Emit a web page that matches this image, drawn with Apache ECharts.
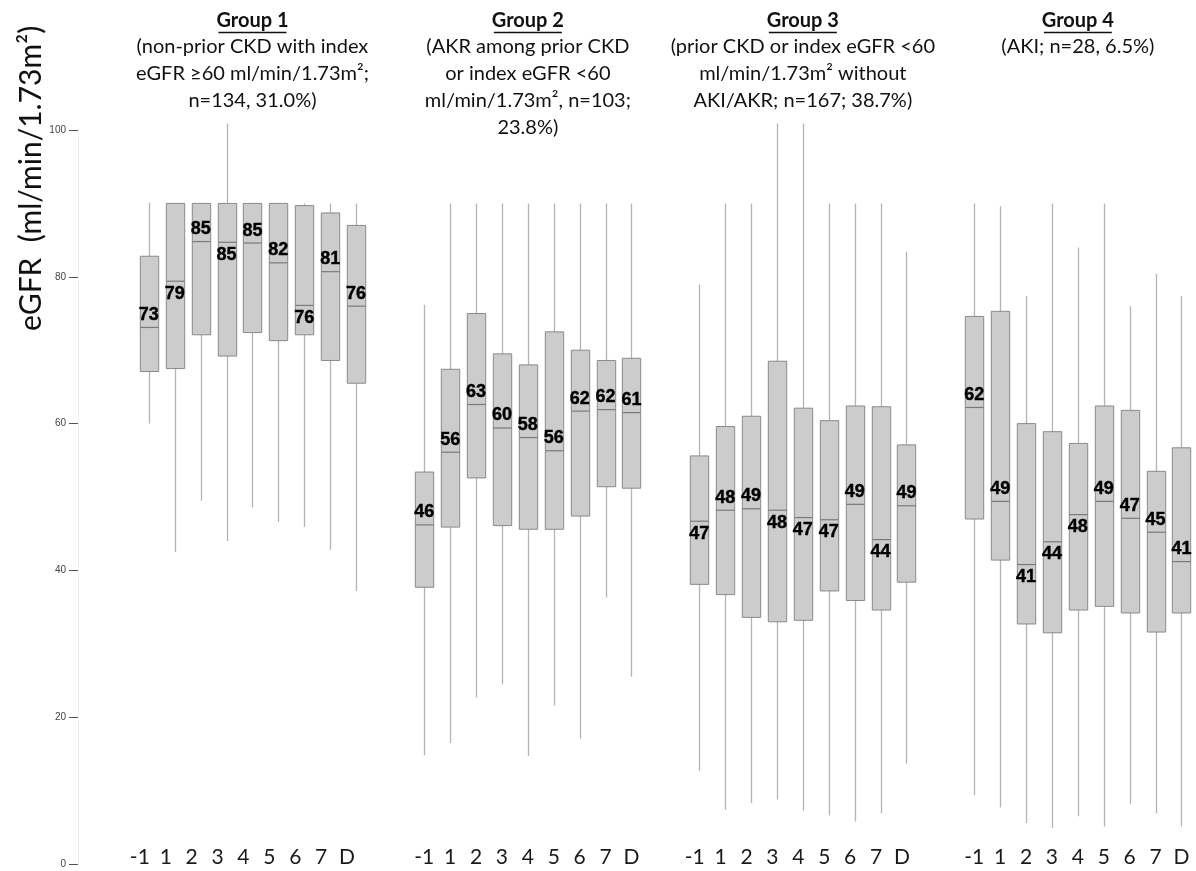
<!DOCTYPE html>
<html>
<head>
<meta charset="utf-8">
<script src="https://cdn.jsdelivr.net/npm/echarts@6/dist/echarts.min.js"></script>
<style>
html,body{margin:0;padding:0;background:#fff;}
#chart{width:1196px;height:871px;}
</style>
</head>
<body>
<div id="chart"></div>
<script>
// ---------- DATA ----------
var categories = ['-1', '1', '2', '3', '4', '5', '6', '7', 'D'];
var yTicks = [0, 20, 40, 60, 80, 100];

var groupTitles = ['Group 1', 'Group 2', 'Group 3', 'Group 4'];
var groupSubtitles = [
  ['(non-prior CKD with index', 'eGFR \u226560 ml/min/1.73m\u00b2;', 'n=134, 31.0%)'],
  ['(AKR among prior CKD', 'or index eGFR <60', 'ml/min/1.73m\u00b2, n=103;', '23.8%)'],
  ['(prior CKD or index eGFR <60', 'ml/min/1.73m\u00b2 without', 'AKI/AKR; n=167; 38.7%)'],
  ['(AKI; n=28, 6.5%)']
];

// Group 1
var g1Low  = [60.0, 42.5, 49.5, 44.0, 48.6, 46.6, 45.9, 42.8, 37.2];
var g1Q1   = [67.1, 67.5, 72.1, 69.2, 72.4, 71.3, 72.1, 68.6, 65.5];
var g1Med  = [73.1, 79.4, 84.8, 84.7, 84.6, 81.9, 76.1, 80.7, 76.0];
var g1Q3   = [82.8, 90.0, 90.0, 90.0, 90.0, 90.0, 89.7, 88.7, 87.0];
var g1High = [90.1, 90.0, 90.0, 100.9, 90.0, 90.0, 90.0, 90.0, 90.0];
var g1Labels = [73, 79, 85, 85, 85, 82, 76, 81, 76];
var g1LabelPos = ['top', 'bottom', 'top', 'bottom', 'top', 'top', 'bottom', 'top', 'top'];

// Group 2
var g2Low  = [14.8, 16.5, 22.7, 24.5, 14.7, 21.6, 17.1, 36.3, 25.5];
var g2Q1   = [37.7, 45.9, 52.6, 46.1, 45.6, 45.6, 47.4, 51.4, 51.2];
var g2Med  = [46.2, 56.1, 62.6, 59.4, 58.1, 56.3, 61.7, 61.9, 61.5];
var g2Q3   = [53.4, 67.4, 75.0, 69.5, 68.0, 72.5, 70.0, 68.6, 68.9];
var g2High = [76.2, 90.0, 90.0, 90.0, 90.0, 90.0, 90.0, 90.0, 90.0];
var g2Labels = [46, 56, 63, 60, 58, 56, 62, 62, 61];
var g2LabelPos = ['top', 'top', 'top', 'top', 'top', 'top', 'top', 'top', 'top'];

// Group 3
var g3Low  = [12.7, 7.4, 8.3, 8.8, 7.3, 6.6, 5.8, 6.9, 13.7];
var g3Q1   = [38.1, 36.7, 33.6, 33.0, 33.2, 37.2, 35.9, 34.6, 38.4];
var g3Med  = [46.7, 48.2, 48.4, 48.2, 47.2, 46.9, 49.0, 44.2, 48.8];
var g3Q3   = [55.6, 59.6, 61.0, 68.5, 62.1, 60.4, 62.4, 62.3, 57.1];
var g3High = [78.9, 90.0, 90.0, 100.9, 100.9, 90.0, 90.0, 90.0, 83.4];
var g3Labels = [47, 48, 49, 48, 47, 47, 49, 44, 49];
var g3LabelPos = ['bottom', 'top', 'top', 'bottom', 'bottom', 'bottom', 'top', 'bottom', 'top'];

// Group 4
var g4Low  = [9.4, 7.7, 5.6, 4.9, 6.5, 5.1, 8.2, 6.9, 5.1];
var g4Q1   = [47.0, 41.4, 32.7, 31.5, 34.6, 35.1, 34.2, 31.6, 34.2];
var g4Med  = [62.2, 49.4, 40.8, 43.9, 47.6, 49.4, 47.1, 45.2, 41.2];
var g4Q3   = [74.6, 75.3, 60.0, 58.9, 57.3, 62.4, 61.8, 53.5, 56.7];
var g4High = [90.0, 89.6, 77.4, 90.0, 84.0, 90.0, 76.0, 80.4, 77.4];
var g4Labels = [62, 49, 41, 44, 48, 49, 47, 45, 41];
var g4LabelPos = ['top', 'top', 'bottom', 'bottom', 'bottom', 'top', 'top', 'top', 'top'];

// ---------- BUILD ----------
var groups = [
  {low: g1Low, q1: g1Q1, med: g1Med, q3: g1Q3, high: g1High, labels: g1Labels, pos: g1LabelPos},
  {low: g2Low, q1: g2Q1, med: g2Med, q3: g2Q3, high: g2High, labels: g2Labels, pos: g2LabelPos},
  {low: g3Low, q1: g3Q1, med: g3Med, q3: g3Q3, high: g3High, labels: g3Labels, pos: g3LabelPos},
  {low: g4Low, q1: g4Q1, med: g4Med, q3: g4Q3, high: g4High, labels: g4Labels, pos: g4LabelPos}
];

var band = 25.9;
var gridW = band * 9;
var gridLefts = [135.9, 411.3, 686.3, 961.3];
var gridTop = 130, gridBottom = 7;
var labelPadRight = [18, 0, 9, 0];

var grids = [], xAxes = [], yAxes = [], series = [], graphics = [];

function renderBox(params, api) {
  var x = api.value(0);
  var lo = api.coord([x, api.value(1)]);
  var q1 = api.coord([x, api.value(2)]);
  var md = api.coord([x, api.value(3)]);
  var q3 = api.coord([x, api.value(4)]);
  var hi = api.coord([x, api.value(5)]);
  var w = api.size([1, 0])[0] * 0.71;
  var cx = Math.round(q1[0]) + 0.5;
  return {
    type: 'group',
    children: [
      {type: 'line', shape: {x1: cx, y1: lo[1], x2: cx, y2: hi[1]},
       style: {stroke: '#b4b4b4', lineWidth: 1.3}},
      {type: 'rect', shape: {x: cx - w / 2, y: q3[1], width: w, height: q1[1] - q3[1]},
       style: {fill: '#cccccc', stroke: '#8a8a8a', lineWidth: 1}},
      {type: 'line', shape: {x1: cx - w / 2, y1: md[1], x2: cx + w / 2, y2: md[1]},
       style: {stroke: '#7a7a7a', lineWidth: 1.2}}
    ]
  };
}

groups.forEach(function (g, gi) {
  grids.push({left: gridLefts[gi], width: gridW, top: gridTop, bottom: gridBottom, containLabel: false});
  xAxes.push({
    type: 'category', gridIndex: gi, data: categories, boundaryGap: true,
    axisLine: {show: false}, axisTick: {show: false}, splitLine: {show: false},
    axisLabel: {
      show: true, interval: 0, margin: -17,
      fontFamily: 'Lato', fontSize: 21, color: '#1a1a1a',
      padding: [0, labelPadRight[gi], 0, 0]
    }
  });
  var ya = {
    type: 'value', gridIndex: gi, min: 0, max: 100, interval: 20,
    splitLine: {show: false}
  };
  if (gi === 0) {
    ya.offset = gridLefts[0] - 78;
    ya.axisLine = {show: true, lineStyle: {color: '#f0f0f0', width: 1}};
    ya.axisTick = {show: true, length: 9, lineStyle: {color: '#555', width: 1}};
    ya.axisLabel = {show: true, margin: 12, fontFamily: 'Liberation Sans', fontSize: 10, color: '#444'};
  } else {
    ya.show = false;
  }
  yAxes.push(ya);

  var boxData = categories.map(function (c, i) {
    return [i, g.low[i], g.q1[i], g.med[i], g.q3[i], g.high[i]];
  });
  series.push({
    type: 'custom', xAxisIndex: gi, yAxisIndex: gi,
    renderItem: renderBox,
    encode: {x: 0, y: [1, 2, 3, 4, 5]},
    data: boxData, silent: true, z: 2
  });
  var labData = categories.map(function (c, i) {
    return {
      value: [i, g.med[i]],
      label: {position: g.pos[i]},
      name: String(g.labels[i])
    };
  });
  series.push({
    type: 'scatter', xAxisIndex: gi, yAxisIndex: gi,
    symbolSize: 1, itemStyle: {color: 'rgba(0,0,0,0)'},
    data: labData, silent: true, z: 5,
    label: {
      show: true, distance: 3, opacity: 1,
      formatter: function (p) { return p.name; },
      fontFamily: 'Liberation Sans', fontWeight: 'bold', fontSize: 18, color: '#000',
      textBorderColor: '#000', textBorderWidth: 0.4
    }
  });

  // titles
  var cx = gridLefts[gi] + gridW / 2;
  graphics.push({
    type: 'text', x: cx, y: 21,
    style: {text: groupTitles[gi], textAlign: 'center', textVerticalAlign: 'middle',
            fontFamily: 'Lato', fontWeight: 'bold', fontSize: 20, fill: '#111'}
  });
  graphics.push({
    type: 'line', shape: {x1: cx - 34, y1: 32.5, x2: cx + 34, y2: 32.5},
    style: {stroke: '#111', lineWidth: 1.5}
  });
  groupSubtitles[gi].forEach(function (line, li) {
    graphics.push({
      type: 'text', x: cx, y: 47 + li * 26.8,
      style: {text: line, textAlign: 'center', textVerticalAlign: 'middle',
              fontFamily: 'Lato', fontSize: 20, fill: '#111'}
    });
  });
});

graphics.push({
  type: 'text', x: 31, y: 331, rotation: Math.PI / 2,
  style: {text: 'eGFR  (ml/min/1.73m\u00b2)', textAlign: 'left', textVerticalAlign: 'middle',
          fontFamily: 'Lato', fontSize: 30, fill: '#111'}
});

var chart = echarts.init(document.getElementById('chart'), null, {renderer: 'canvas'});
chart.setOption({
  animation: false,
  backgroundColor: '#ffffff',
  grid: grids,
  xAxis: xAxes,
  yAxis: yAxes,
  series: series,
  graphic: graphics
});
</script>
</body>
</html>
